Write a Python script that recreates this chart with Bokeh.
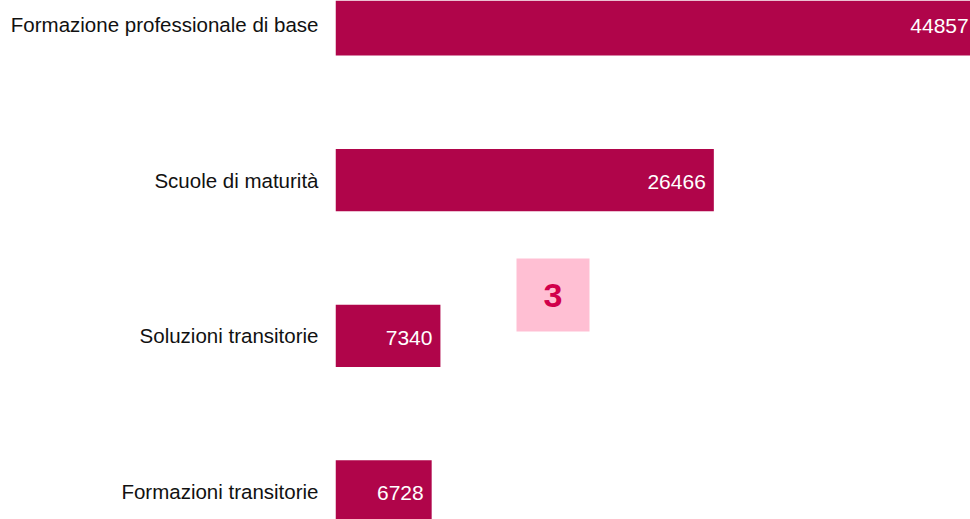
from bokeh.plotting import figure
from bokeh.models import Range1d, FixedTicker, Label, BoxAnnotation, ColumnDataSource
from bokeh.core.properties import value
from bokeh.embed import file_html
from bokeh.resources import INLINE

categories = ["Formazione professionale di base", "Scuole di maturità",
              "Soluzioni transitorie", "Formazioni transitorie"]
values = [44857, 26466, 7340, 6728]
badge_text = "3"

BAR = "#B0054A"
FONT = "Liberation Sans"

n = len(categories)
pos = [n - 1 - i for i in range(n)]
src = ColumnDataSource(dict(y=pos, v=values, lab=[str(v) for v in values]))

p = figure(width=970, height=519, output_backend="svg", toolbar_location=None,
           x_range=Range1d(0, 44421), y_range=Range1d(-0.18, 3.154),
           min_border_left=335, min_border_right=0, min_border_top=0, min_border_bottom=0,
           margin=(0, 0, 0, 0))
p.outline_line_color = None
p.grid.visible = False
p.xaxis.visible = False
p.background_fill_color = "white"
p.border_fill_color = "white"

p.hbar(y="y", left=0, right="v", height=0.4, source=src, fill_color=BAR, line_color=None)
p.text(x="v", y="y", text="lab", source=src, text_align="right", text_baseline="middle",
       x_offset=-8, y_offset=2, text_color="white", text_font=value(FONT),
       text_font_size="21px")

ya = p.yaxis[0]
ya.ticker = FixedTicker(ticks=pos)
ya.major_label_overrides = {pp: c for pp, c in zip(pos, categories)}
ya.axis_line_color = None
ya.major_tick_line_color = None
ya.minor_tick_line_color = None
ya.major_tick_out = 0
ya.major_label_standoff = 17
ya.major_label_text_font = FONT
ya.major_label_text_font_size = "20.5px"
ya.major_label_text_color = "#111111"

box = BoxAnnotation(left=516 - 335, right=589 - 335, top=519 - 258, bottom=519 - 331,
                    left_units="screen", right_units="screen", top_units="screen",
                    bottom_units="screen", fill_color="#FFBFD3", fill_alpha=1.0,
                    line_color=None)
p.add_layout(box)
lbl = Label(x=552.5 - 335, y=519 - 294.5, x_units="screen", y_units="screen", text=badge_text,
            text_align="center", text_baseline="middle", text_color="#D1004B",
            text_font=FONT, text_font_style="bold", text_font_size="34px")
p.add_layout(lbl)

open("out.html", "w").write(file_html(p, INLINE))
